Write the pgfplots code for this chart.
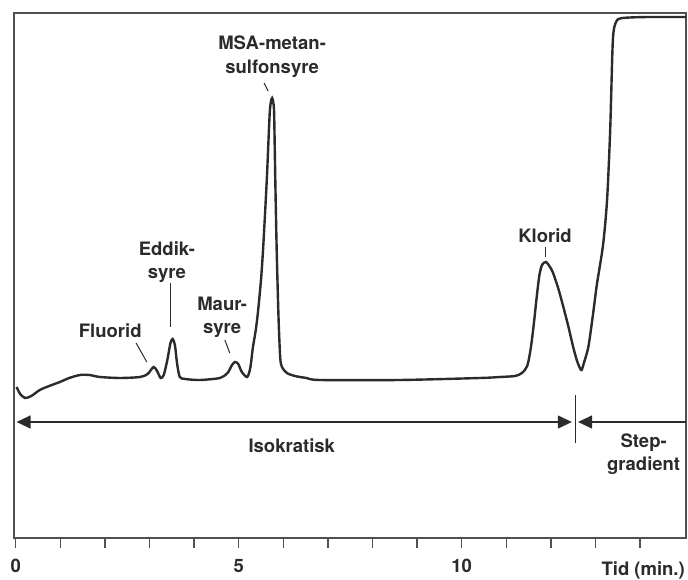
\documentclass[border=0pt]{standalone}
\usepackage{fontspec}
\setmainfont{TeX Gyre Heros}
\usepackage{pgfplots}
\pgfplotsset{compat=1.18}
\usetikzlibrary{arrows.meta}
\definecolor{ink}{HTML}{2B2B2B}
\definecolor{frame}{HTML}{505050}
\pgfplotstableread{
t v
0.02 151
0.10 144
0.21 140
0.35 142
0.54 148
0.75 152
0.99 156
1.20 160
1.44 163
1.65 163
1.89 161
2.34 160
2.79 161
2.96 164
3.09 171
3.17 167
3.25 160
3.32 163
3.40 178
3.47 195
3.52 199
3.57 193
3.62 174
3.68 161
3.80 159
4.13 158
4.58 160
4.75 165
4.85 173
4.92 176
4.99 174
5.07 166
5.19 161
5.26 170
5.32 191
5.38 207
5.43 225
5.50 258
5.55 291
5.63 358
5.68 410
5.70 428
5.725 437
5.75 440
5.775 436
5.795 424
5.82 360
5.85 292
5.89 225
5.93 181
5.97 171
6.08 165
6.26 162
6.52 160
6.82 158
8.62 158
10.41 160
10.86 161
11.20 162
11.35 165
11.47 172
11.55 190
11.62 215
11.68 240
11.74 262
11.80 273
11.89 276
11.98 271
12.05 265
12.17 249
12.28 231
12.40 210
12.50 191
12.58 178
12.65 170
12.69 168
12.74 175
12.84 191
12.94 222
13.03 253
13.17 293
13.26 338
13.33 408
13.39 498
13.46 516
13.55 519.5
13.77 520.5
14.22 521
15.03 521
}\chrom
\newcommand{\lbl}{\fontsize{18.5}{22}\selectfont\bfseries}
\begin{document}
\begin{tikzpicture}
\begin{axis}[
  at={(0pt,0pt)}, anchor=south west,
  scale only axis, width=672pt, height=525pt,
  xmin=-0.038, xmax=15.03, ymin=0, ymax=525,
  axis line style={line width=1.4pt, color=frame},
  xtick={0,...,14},
  xticklabels={0,,,,,5,,,,,10,,,,},
  ytick=\empty,
  tick align=outside, major tick length=10pt,
  xtick pos=bottom,
  every tick/.style={line width=1.3pt, color=frame},
  xticklabel style={font=\lbl, text=ink, yshift=-8pt},
  /pgf/number format/assume math mode=true,
  clip=false,
]
\addplot[ink, line width=2.4pt, smooth, tension=0.45] table[x=t,y=v] {\chrom};

% annotations
\node[anchor=base, text=ink, font=\lbl] at (axis cs:5.75,488) {MSA-metan-};
\node[anchor=base, text=ink, font=\lbl] at (axis cs:5.75,464) {sulfonsyre};
\draw[ink, line width=1pt] (axis cs:5.57,455) -- (axis cs:5.66,447);

\node[anchor=base, text=ink, font=\lbl] at (axis cs:3.39,282) {Eddik-};
\node[anchor=base, text=ink, font=\lbl] at (axis cs:3.39,259) {syre};
\draw[ink, line width=1pt] (axis cs:3.46,255) -- (axis cs:3.46,211);

\node[anchor=base, text=ink, font=\lbl] at (axis cs:2.12,200) {Fluorid};
\draw[ink, line width=1pt] (axis cs:2.70,195) -- (axis cs:2.94,176);

\node[anchor=base, text=ink, font=\lbl] at (axis cs:4.63,227) {Maur-};
\node[anchor=base, text=ink, font=\lbl] at (axis cs:4.63,204) {syre};
\draw[ink, line width=1pt] (axis cs:4.69,198) -- (axis cs:4.80,185);

\node[anchor=base, text=ink, font=\lbl] at (axis cs:11.87,295) {Klorid};
\draw[ink, line width=1pt] (axis cs:11.89,291) -- (axis cs:11.89,281);

% region arrows
\draw[ink, line width=1.2pt, {Triangle[length=14pt,width=13pt]}-{Triangle[length=14pt,width=13pt]}] (axis cs:0.02,116) -- (axis cs:12.47,116);
\draw[ink, line width=1.2pt] (axis cs:12.55,143) -- (axis cs:12.55,95);
\draw[ink, line width=1.2pt, {Triangle[length=14pt,width=13pt]}-] (axis cs:12.61,116) -- (axis cs:15.03,116);

\node[anchor=base, text=ink, font=\lbl] at (axis cs:6.19,85) {Isokratisk};
\node[anchor=base, text=ink, font=\lbl] at (axis cs:14.08,90) {Step-};
\node[anchor=base, text=ink, font=\lbl] at (axis cs:14.08,67) {gradient};

\node[anchor=east, text=ink, font=\lbl, inner sep=1pt] at (axis cs:15.03,-32) {Tid (min.)};
\end{axis}
\pgfresetboundingbox
\useasboundingbox (-14pt,-42pt) rectangle (674pt,538pt);
\end{tikzpicture}
\end{document}
